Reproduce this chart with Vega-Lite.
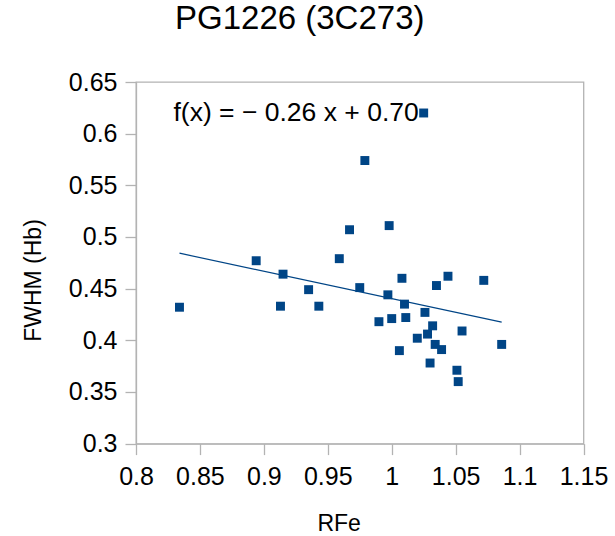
{
  "$schema": "https://vega.github.io/schema/vega-lite/v6.json",
  "autosize": {"type": "none"},
  "width": 447.5,
  "height": 361.6,
  "padding": {"left": 136, "top": 82, "right": 31.5, "bottom": 92.4},
  "background": "white",
  "config": {
    "font": "Liberation Sans",
    "view": {"stroke": "#b3b3b3", "strokeWidth": 1.3},
    "axis": {
      "grid": false,
      "domainColor": "#b3b3b3",
      "domainWidth": 1.3,
      "tickColor": "#b3b3b3",
      "tickWidth": 1.3,
      "tickSize": 11,
      "labelFontSize": 25,
      "labelColor": "black",
      "labelFont": "Liberation Sans",
      "labelOverlap": false,
      "labelBound": false,
      "labelFlush": false,
      "titleFont": "Liberation Sans",
      "titleFontSize": 23,
      "titleFontWeight": "normal",
      "titleColor": "black"
    }
  },
  "title": {
    "text": "PG1226 (3C273)",
    "font": "Liberation Sans",
    "fontSize": 33,
    "fontWeight": "normal",
    "color": "black",
    "anchor": "middle",
    "frame": "group",
    "dx": -60,
    "offset": 34
  },
  "datasets": {
    "pts": [
      {"RFe": 0.834, "FWHM": 0.432},
      {"RFe": 0.894, "FWHM": 0.477},
      {"RFe": 0.915, "FWHM": 0.464},
      {"RFe": 0.913, "FWHM": 0.433},
      {"RFe": 0.935, "FWHM": 0.449},
      {"RFe": 0.943, "FWHM": 0.433},
      {"RFe": 0.959, "FWHM": 0.479},
      {"RFe": 0.967, "FWHM": 0.507},
      {"RFe": 0.975, "FWHM": 0.451},
      {"RFe": 0.979, "FWHM": 0.574},
      {"RFe": 0.990, "FWHM": 0.418},
      {"RFe": 0.997, "FWHM": 0.444},
      {"RFe": 0.998, "FWHM": 0.511},
      {"RFe": 1.000, "FWHM": 0.421},
      {"RFe": 1.006, "FWHM": 0.390},
      {"RFe": 1.008, "FWHM": 0.460},
      {"RFe": 1.010, "FWHM": 0.435},
      {"RFe": 1.011, "FWHM": 0.422},
      {"RFe": 1.020, "FWHM": 0.402},
      {"RFe": 1.025, "FWHM": 0.620},
      {"RFe": 1.026, "FWHM": 0.427},
      {"RFe": 1.028, "FWHM": 0.406},
      {"RFe": 1.030, "FWHM": 0.378},
      {"RFe": 1.032, "FWHM": 0.414},
      {"RFe": 1.034, "FWHM": 0.396},
      {"RFe": 1.035, "FWHM": 0.453},
      {"RFe": 1.039, "FWHM": 0.391},
      {"RFe": 1.044, "FWHM": 0.462},
      {"RFe": 1.051, "FWHM": 0.371},
      {"RFe": 1.052, "FWHM": 0.360},
      {"RFe": 1.055, "FWHM": 0.409},
      {"RFe": 1.072, "FWHM": 0.458},
      {"RFe": 1.086, "FWHM": 0.396}
    ],
    "label": [
      {"RFe": 0.8293, "FWHM": 0.6197, "text": "f(x) = − 0.26 x + 0.70"}
    ]
  },
  "layer": [
    {
      "data": {"name": "pts"},
      "transform": [{"regression": "FWHM", "on": "RFe"}],
      "mark": {"type": "line", "color": "#004586", "strokeWidth": 1.2},
      "encoding": {
        "x": {"field": "RFe", "type": "quantitative"},
        "y": {"field": "FWHM", "type": "quantitative"}
      }
    },
    {
      "data": {"name": "pts"},
      "mark": {"type": "point", "shape": "square", "filled": true, "color": "#004586", "size": 80, "opacity": 1},
      "encoding": {
        "x": {
          "field": "RFe", "type": "quantitative",
          "scale": {"domain": [0.8, 1.15], "nice": false, "zero": false},
          "axis": {
            "title": "RFe",
            "values": [0.8, 0.85, 0.9, 0.95, 1, 1.05, 1.1, 1.15],
            "format": ".2~f",
            "labelPadding": 10,
            "titleX": 202.6,
            "titleY": 80,
            "titleBaseline": "middle",
            "titleAlign": "center"
          }
        },
        "y": {
          "field": "FWHM", "type": "quantitative",
          "scale": {"domain": [0.3, 0.65], "nice": false, "zero": false},
          "axis": {
            "title": "FWHM (Hb)",
            "values": [0.3, 0.35, 0.4, 0.45, 0.5, 0.55, 0.6, 0.65],
            "format": ".2~f",
            "labelPadding": 8,
            "titleX": -103,
            "titleY": 198,
            "titleBaseline": "middle",
            "titleAlign": "center",
            "titleAngle": -90
          }
        }
      }
    },
    {
      "data": {"name": "label"},
      "mark": {"type": "text", "align": "left", "baseline": "middle", "fontSize": 26.5, "color": "black", "font": "Liberation Sans"},
      "encoding": {
        "x": {"field": "RFe", "type": "quantitative"},
        "y": {"field": "FWHM", "type": "quantitative"},
        "text": {"field": "text"}
      }
    }
  ]
}
